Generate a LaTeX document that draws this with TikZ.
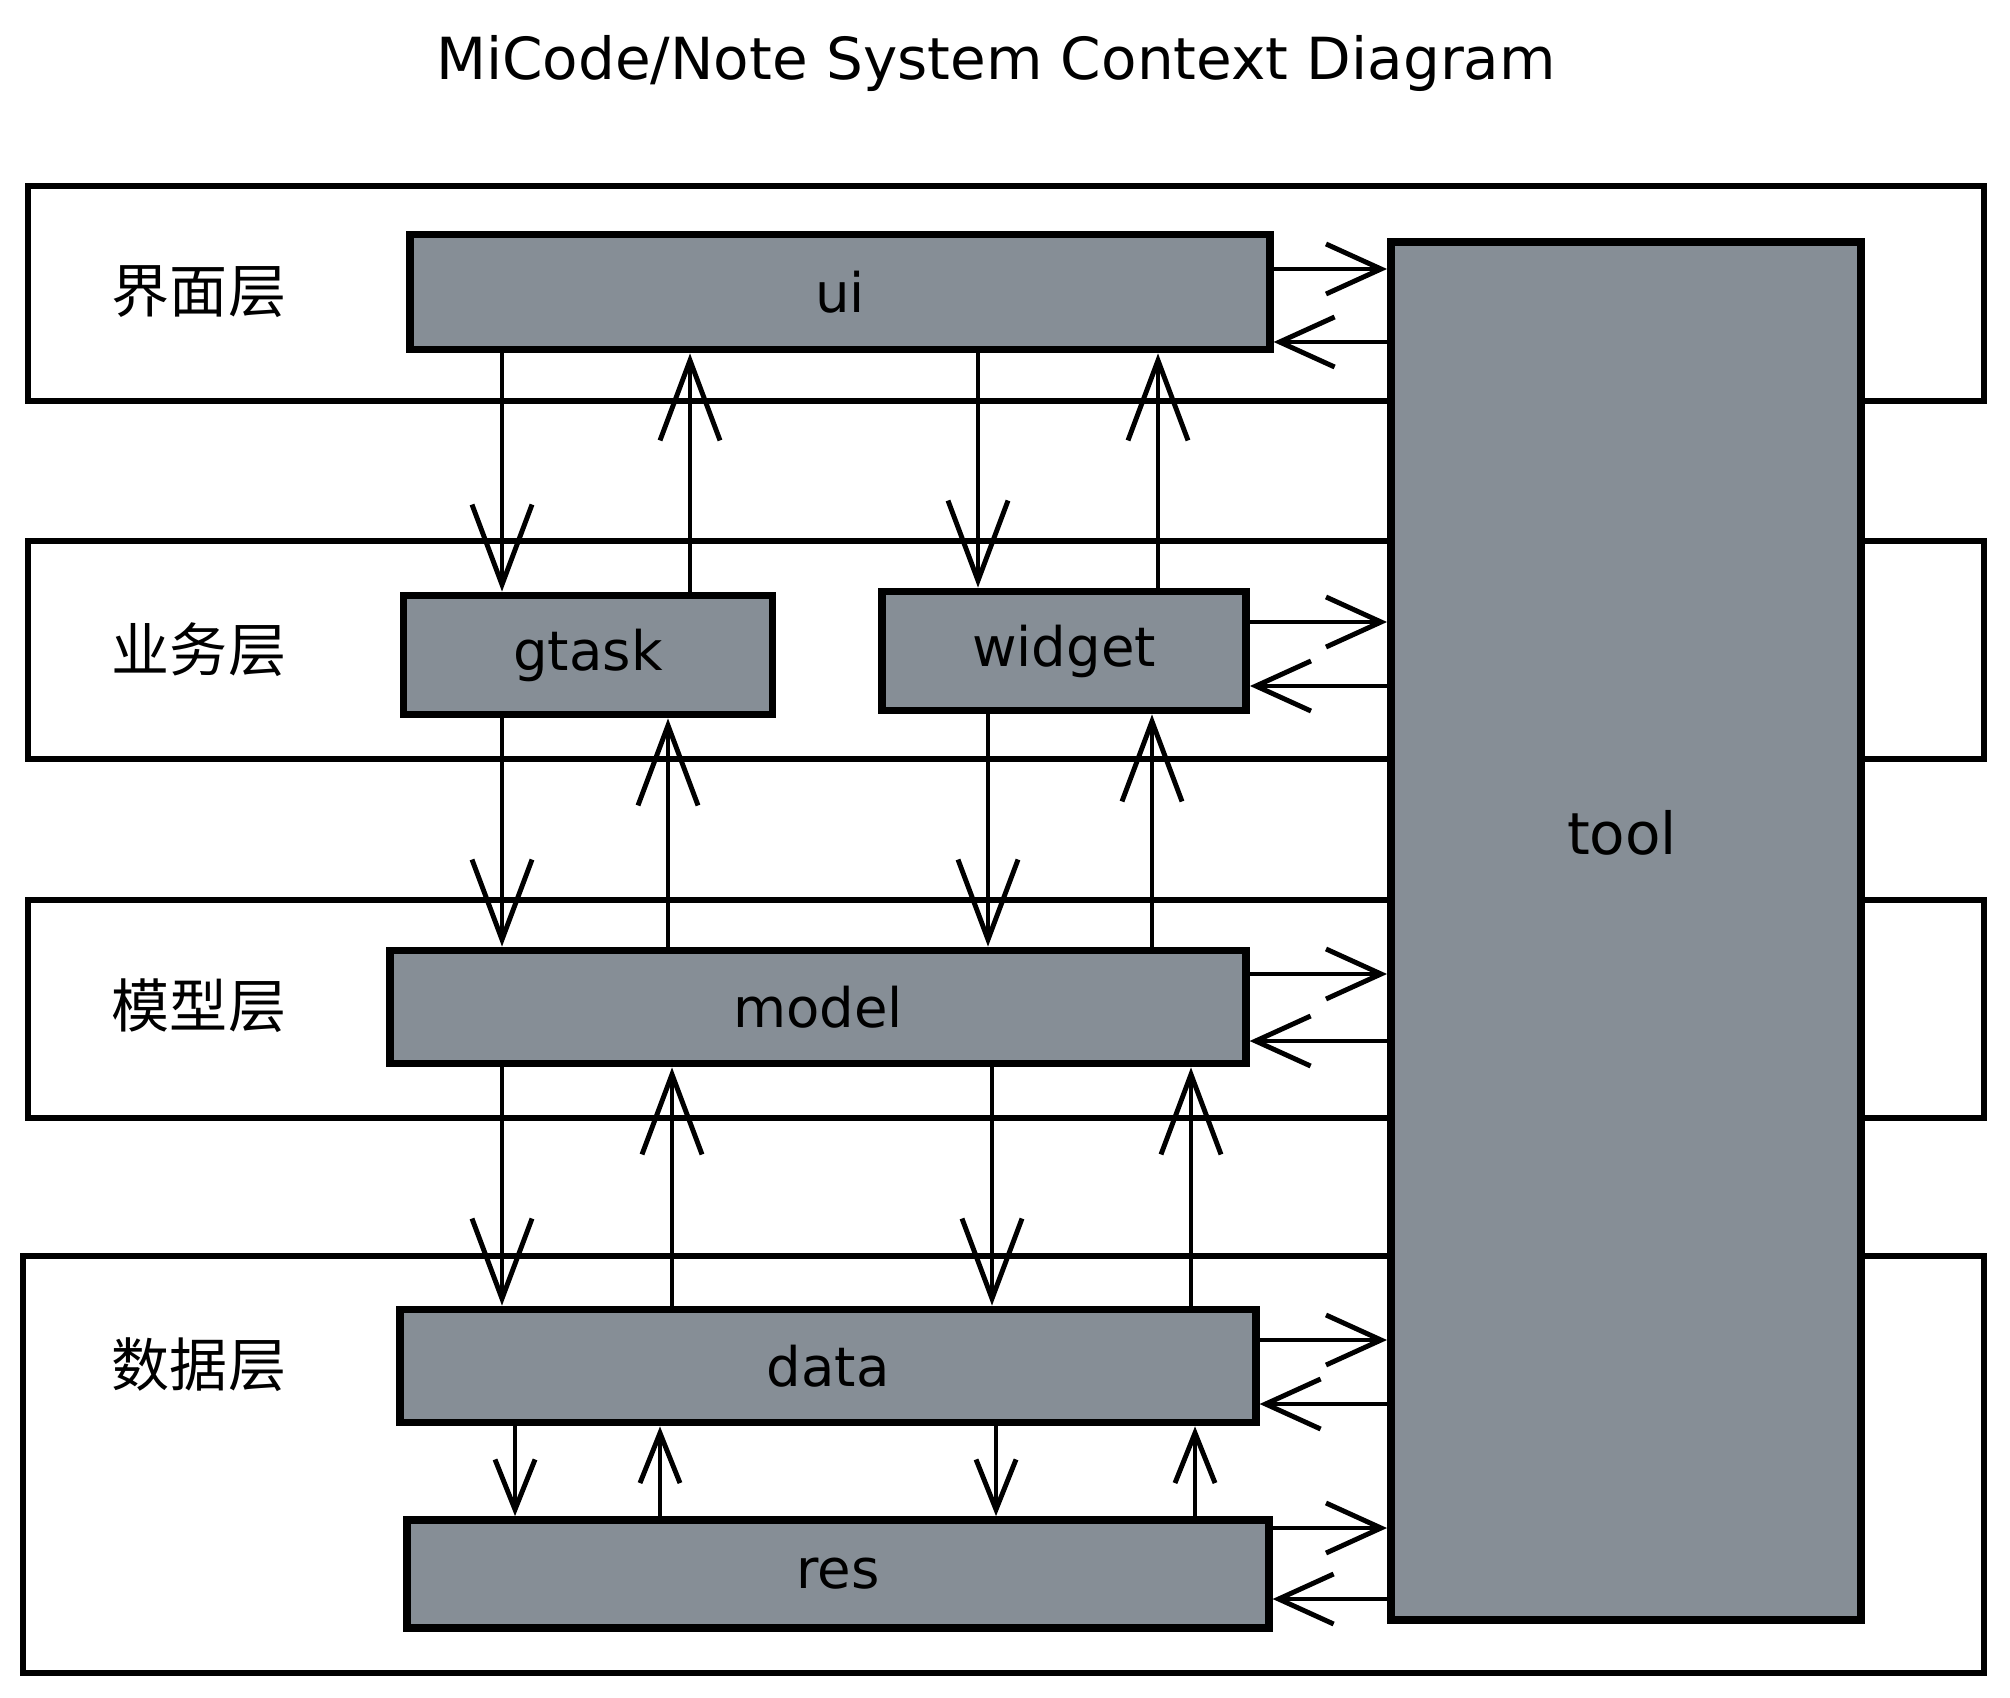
\documentclass[tikz,border=0pt]{standalone}
\usepackage{fontspec}
\setmainfont{DejaVu Sans}
\newfontfamily\zhfont{Noto Sans CJK SC}
\usetikzlibrary{arrows.meta, positioning}
\definecolor{boxgray}{HTML}{868E96}
\tikzset{
  layer/.style={draw, line width=1.8pt},
  comp/.style={draw, fill=boxgray, line width=2.2pt, inner sep=0pt, font=\fontsize{15.5pt}{19pt}\selectfont},
  tier/.style={font=\zhfont\fontsize{16.5pt}{20pt}\selectfont},
  vlink/.style={-{Straight Barb[length=8mm,width=6mm]}, line width=1.4pt},
  hlink/.style={-{Straight Barb[length=5.5mm,width=5mm]}, line width=1.4pt},
  slink/.style={-{Straight Barb[length=5mm,width=4mm]}, line width=1.4pt}
}

\begin{document}
\begin{tikzpicture}[x=0.01cm, y=-0.01cm]
\useasboundingbox (0,0) rectangle (2010,1698);

\node[font=\fontsize{16.5pt}{20pt}\selectfont] (title) at (996,64) {MiCode/Note System Context Diagram};

% layers
\draw[layer] (28,186) rectangle (1984,401);
\draw[layer] (28,541) rectangle (1984,759);
\draw[layer] (28,900) rectangle (1984,1118);
\draw[layer] (23,1256) rectangle (1984,1673);
\node[tier] (uilayer) at (199,292) {界面层};
\node[tier] (bizlayer) at (199,650) {业务层};
\node[tier] (modellayer) at (199,1006) {模型层};
\node[tier] (datalayer) at (199,1365) {数据层};

% components
\node[comp, minimum width=8.59cm, minimum height=1.15cm] (ui) at (840,292) {ui};
\node[comp, minimum width=3.69cm, minimum height=1.19cm] (gtask) at (588,655) {gtask};
\node[comp, minimum width=3.64cm, minimum height=1.19cm] (widget) at (1064,651) {widget};
\node[comp, minimum width=8.55cm, minimum height=1.13cm] (model) at (818,1007) {model};
\node[comp, minimum width=8.55cm, minimum height=1.13cm] (data) at (828,1366) {data};
\node[comp, minimum width=8.61cm, minimum height=1.08cm] (res) at (838,1574) {res};
\node[comp, minimum width=4.70cm, minimum height=13.77cm] (tool) at (1626,931) {};
\node[font=\fontsize{16.5pt}{19pt}\selectfont] (toollabel) at (1622,833) {tool};

% vertical links
\draw[vlink] (502,0 |- ui.south) -- (502,0 |- gtask.north);
\draw[vlink] (690,0 |- gtask.north) -- (690,0 |- ui.south);
\draw[vlink] (978,0 |- ui.south) -- (978,0 |- widget.north);
\draw[vlink] (1158,0 |- widget.north) -- (1158,0 |- ui.south);
\draw[vlink] (502,0 |- gtask.south) -- (502,0 |- model.north);
\draw[vlink] (668,0 |- model.north) -- (668,0 |- gtask.south);
\draw[vlink] (988,0 |- widget.south) -- (988,0 |- model.north);
\draw[vlink] (1152,0 |- model.north) -- (1152,0 |- widget.south);
\draw[vlink] (502,0 |- model.south) -- (502,0 |- data.north);
\draw[vlink] (672,0 |- data.north) -- (672,0 |- model.south);
\draw[vlink] (992,0 |- model.south) -- (992,0 |- data.north);
\draw[vlink] (1191,0 |- data.north) -- (1191,0 |- model.south);
\draw[slink] (515,0 |- data.south) -- (515,0 |- res.north);
\draw[slink] (660,0 |- res.north) -- (660,0 |- data.south);
\draw[slink] (996,0 |- data.south) -- (996,0 |- res.north);
\draw[slink] (1195,0 |- res.north) -- (1195,0 |- data.south);

% links to tool
\draw[hlink] (ui.east |- 0,269) -- (tool.west |- 0,269);
\draw[hlink] (tool.west |- 0,342) -- (ui.east |- 0,342);
\draw[hlink] (widget.east |- 0,622) -- (tool.west |- 0,622);
\draw[hlink] (tool.west |- 0,686) -- (widget.east |- 0,686);
\draw[hlink] (model.east |- 0,974) -- (tool.west |- 0,974);
\draw[hlink] (tool.west |- 0,1041) -- (model.east |- 0,1041);
\draw[hlink] (data.east |- 0,1340) -- (tool.west |- 0,1340);
\draw[hlink] (tool.west |- 0,1404) -- (data.east |- 0,1404);
\draw[hlink] (res.east |- 0,1528) -- (tool.west |- 0,1528);
\draw[hlink] (tool.west |- 0,1599) -- (res.east |- 0,1599);
\end{tikzpicture}
\end{document}
